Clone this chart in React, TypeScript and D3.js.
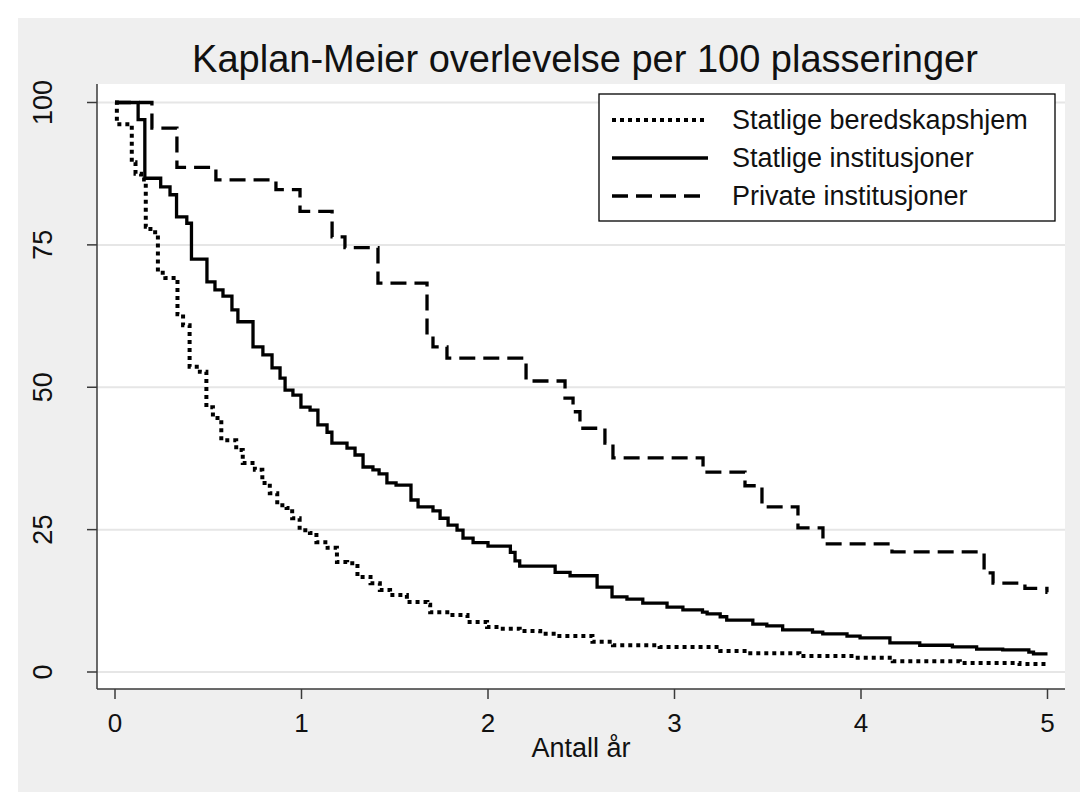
import { useMemo } from "react"
import * as d3 from "d3"

// [år, overlevelse per 100] – steg lest av figuren
const beredskapshjem: [number, number][] = [
  [0, 100], [0.01, 96.2], [0.09, 89.5], [0.11, 87.5], [0.14, 86.5], [0.165, 78.2],
  [0.19, 77.2], [0.23, 70.1], [0.27, 69.2], [0.335, 62.8], [0.365, 60.9], [0.4, 53.6],
  [0.455, 52.7], [0.49, 46.5], [0.525, 44.6], [0.57, 40.7], [0.65, 39.0], [0.685, 36.7],
  [0.75, 35.5], [0.79, 33.2], [0.83, 31.4], [0.87, 29.3], [0.92, 28.8], [0.95, 27.0],
  [0.99, 24.9], [1.045, 24.4], [1.08, 22.8], [1.14, 21.8], [1.19, 19.3], [1.245, 19.1],
  [1.3, 16.7], [1.37, 15.6], [1.42, 14.4], [1.475, 13.5], [1.565, 12.3], [1.675, 11.8],
  [1.69, 10.5], [1.795, 10.0], [1.89, 8.8], [1.995, 7.9], [2.065, 7.6], [2.17, 7.2],
  [2.28, 6.7], [2.37, 6.3], [2.56, 5.3], [2.67, 4.7], [2.92, 4.4], [3.245, 3.7],
  [3.39, 3.3], [3.67, 2.8], [3.96, 2.5], [4.17, 1.9], [4.53, 1.6], [4.85, 1.4], [5, 1.4],
]

const statligeInst: [number, number][] = [
  [0, 100], [0.124, 97.0], [0.16, 86.7], [0.245, 85.2], [0.295, 83.8], [0.33, 79.9],
  [0.385, 78.8], [0.41, 72.5], [0.493, 68.5], [0.536, 67.1], [0.579, 66.0], [0.627, 63.6],
  [0.659, 61.5], [0.74, 57.1], [0.793, 55.7], [0.842, 53.4], [0.885, 51.6], [0.912, 49.5],
  [0.954, 48.6], [0.997, 46.5], [1.046, 46.0], [1.088, 43.4], [1.137, 42.1], [1.163, 40.2],
  [1.244, 39.3], [1.287, 38.1], [1.33, 36.0], [1.383, 35.5], [1.416, 34.8], [1.458, 33.2],
  [1.507, 32.8], [1.587, 30.2], [1.625, 29.0], [1.705, 28.3], [1.743, 27.0], [1.786, 25.8],
  [1.834, 24.9], [1.866, 23.5], [1.92, 22.7], [2.0, 22.1], [2.12, 21.0], [2.145, 19.5],
  [2.17, 18.6], [2.36, 17.5], [2.44, 16.9], [2.585, 14.9], [2.665, 13.2], [2.745, 12.8],
  [2.83, 12.1], [2.96, 11.4], [3.045, 10.9], [3.15, 10.5], [3.175, 10.2], [3.245, 9.7],
  [3.28, 9.1], [3.42, 8.4], [3.495, 8.1], [3.58, 7.4], [3.74, 7.0], [3.795, 6.7],
  [3.925, 6.3], [3.995, 6.0], [4.155, 5.1], [4.315, 4.7], [4.49, 4.4], [4.62, 4.0],
  [4.76, 3.9], [4.9, 3.5], [4.925, 3.2], [5, 3.2],
]

const privateInst: [number, number][] = [
  [0, 100], [0.198, 95.5], [0.332, 88.6], [0.541, 86.4], [0.863, 84.7], [0.992, 80.9],
  [1.164, 76.4], [1.233, 74.5], [1.41, 68.3], [1.673, 59.2], [1.705, 57.1], [1.78, 55.1],
  [2.204, 51.1], [2.413, 48.1], [2.456, 45.7], [2.493, 42.8], [2.627, 40.2], [2.67, 37.6],
  [3.153, 35.1], [3.378, 32.7], [3.469, 29.0], [3.662, 25.3], [3.796, 22.5], [4.166, 21.1],
  [4.66, 17.4], [4.708, 15.6], [4.879, 14.7], [4.997, 14.0], [5, 14.0],
]

const seriesNames = ["Statlige beredskapshjem", "Statlige institusjoner", "Private institusjoner"]
const xTicks = [0, 1, 2, 3, 4, 5]
const yTicks = [0, 25, 50, 75, 100]

const W = 1080, H = 792
const plot = { left: 97, right: 1065, top: 84, bottom: 689 }
const font = "'Liberation Sans', Arial, Helvetica, sans-serif"

const styles = [
  { dash: "4,4", width: 4 },
  { dash: "none", width: 3.3 },
  { dash: "16,8", width: 3.3 },
]

export default function App() {
  const x = d3.scaleLinear().domain([0, 5]).range([115, 1047.5])
  const y = d3.scaleLinear().domain([0, 100]).range([672, 102.5])

  const paths = useMemo(() => {
    const line = d3.line<[number, number]>()
      .x(d => x(d[0]))
      .y(d => y(d[1]))
      .curve(d3.curveStepAfter)
    return [beredskapshjem, statligeInst, privateInst].map(s => line(s) || "")
  }, [])

  const legend = { x: 599, y: 94, w: 456, h: 127 }
  const rowY = [120, 158, 196]

  return (
    <div style={{ position: "fixed", left: 0, top: 0 }}>
      <svg width={W} height={H} style={{ display: "block", fontFamily: font }}>
        <rect width={W} height={H} fill="#ffffff" />
        <rect x={18} y={18} width={W - 18} height={H - 18} fill="#efefef" />
        <rect x={plot.left} y={plot.top} width={plot.right - plot.left} height={plot.bottom - plot.top} fill="#ffffff" />

        {yTicks.map(t => (
          <line key={"g" + t} x1={plot.left} x2={plot.right} y1={y(t)} y2={y(t)} stroke="#e6e6e6" strokeWidth={2} />
        ))}

        {paths.map((d, i) => (
          <path key={i} d={d} fill="none" stroke="#000" strokeWidth={styles[i].width}
            strokeDasharray={styles[i].dash} strokeLinejoin="miter" />
        ))}

        {/* akser */}
        <line x1={plot.left} x2={plot.left} y1={plot.top} y2={plot.bottom} stroke="#3a3a3a" strokeWidth={1.5} />
        <line x1={plot.left} x2={plot.right} y1={plot.bottom} y2={plot.bottom} stroke="#3a3a3a" strokeWidth={1.5} />

        {yTicks.map(t => (
          <g key={"y" + t}>
            <line x1={plot.left - 10} x2={plot.left} y1={y(t)} y2={y(t)} stroke="#3a3a3a" strokeWidth={1.5} />
            <text transform={`translate(52,${y(t)}) rotate(-90)`} textAnchor="middle" fontSize={27} fill="#111">{t}</text>
          </g>
        ))}
        {xTicks.map(t => (
          <g key={"x" + t}>
            <line x1={x(t)} x2={x(t)} y1={plot.bottom} y2={plot.bottom + 10} stroke="#3a3a3a" strokeWidth={1.5} />
            <text x={x(t)} y={732} textAnchor="middle" fontSize={26} fill="#111">{t}</text>
          </g>
        ))}

        <text x={581} y={757} textAnchor="middle" fontSize={27} fill="#111">Antall år</text>
        <text x={585} y={72} textAnchor="middle" fontSize={38} fill="#111">Kaplan-Meier overlevelse per 100 plasseringer</text>

        {/* legende */}
        <rect x={legend.x} y={legend.y} width={legend.w} height={legend.h} fill="#fff" stroke="#000" strokeWidth={1.3} />
        {seriesNames.map((n, i) => (
          <g key={n}>
            <line x1={612} x2={708} y1={rowY[i]} y2={rowY[i]} stroke="#000" strokeWidth={styles[i].width}
              strokeDasharray={styles[i].dash} />
            <text x={732} y={rowY[i]} dy="0.35em" fontSize={27} fill="#111">{n}</text>
          </g>
        ))}
      </svg>
    </div>
  )
}
